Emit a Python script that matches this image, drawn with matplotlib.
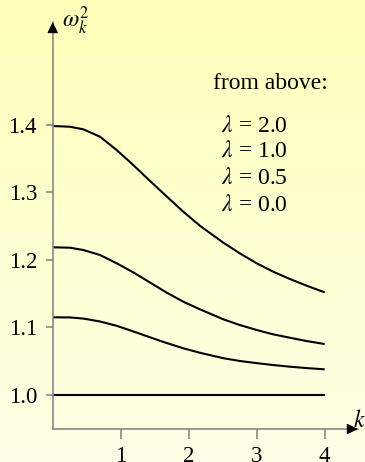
import numpy as np
import matplotlib
matplotlib.use("Agg")
import matplotlib.pyplot as plt

plt.rcParams['font.family'] = ['Liberation Serif', 'DejaVu Serif']
plt.rcParams['mathtext.fontset'] = 'stix'

# values
k_lam2 = [0.0, 0.254, 0.45, 0.696, 0.941, 1.185, 1.43, 1.676, 1.921, 2.166,
          2.509, 2.754, 3.0, 3.244, 3.49, 3.735, 4.0]
w_lam2 = [1.3978, 1.3967, 1.3929, 1.3819, 1.3622, 1.3400, 1.3165, 1.2935, 1.2708, 1.2500,
          1.2250, 1.2090, 1.1944, 1.1819, 1.1711, 1.1612, 1.1514]
k_lam1 = [0.0, 0.254, 0.45, 0.696, 0.941, 1.185, 1.43, 1.676, 1.921, 2.166,
          2.51, 2.75, 3.0, 3.24, 3.49, 3.73, 4.0]
w_lam1 = [1.2181, 1.2175, 1.2141, 1.2067, 1.1944, 1.1810, 1.1660, 1.1510, 1.1375, 1.1262,
          1.1114, 1.1030, 1.0956, 1.0892, 1.0841, 1.0793, 1.0748]
k_lam05 = [0.0, 0.254, 0.45, 0.696, 0.941, 1.185, 1.43, 1.676, 1.921, 2.166,
           2.51, 2.75, 3.0, 3.24, 3.49, 3.73, 4.0]
w_lam05 = [1.1144, 1.1142, 1.1125, 1.1082, 1.1018, 1.0935, 1.0848, 1.0763, 1.0685, 1.0618,
           1.0538, 1.0497, 1.0465, 1.0437, 1.0412, 1.0392, 1.0373]
k_lam0 = [0.0, 4.0]
w_lam0 = [1.0, 1.0]

lambdas = ["2.0", "1.0", "0.5", "0.0"]
xticks = [1, 2, 3, 4]
yticks = [1.0, 1.1, 1.2, 1.3, 1.4]

fig = plt.figure(figsize=(3.65, 4.62), dpi=100)

# yellow gradient background
bg = fig.add_axes([0, 0, 1, 1], zorder=-10)
grad = np.linspace(0, 1, 256).reshape(-1, 1)
top = np.array([1.0, 1.0, 0.73])
bot = np.array([1.0, 1.0, 0.91])
img = top[None, None, :] * (1 - grad[:, :, None]) + bot[None, None, :] * grad[:, :, None]
bg.imshow(img, aspect='auto', extent=[0, 1, 0, 1])
bg.axis('off')

ax = fig.add_axes([0.1444, 0.0714, 0.8364, 0.881])
ax.patch.set_alpha(0)
ax.set_xlim(0, 4.49)
ax.set_ylim(0.9489, 1.5519)

for kk, w in ((k_lam2, w_lam2), (k_lam1, w_lam1), (k_lam05, w_lam05), (k_lam0, w_lam0)):
    ax.plot(kk, w, color='black', lw=1.5, solid_capstyle='butt', solid_joinstyle='round')

axis_col = '#808080'
for s in ('top', 'right'):
    ax.spines[s].set_visible(False)
for s in ('left', 'bottom'):
    ax.spines[s].set_color(axis_col)
    ax.spines[s].set_linewidth(1.1)

ax.set_xticks(xticks)
ax.set_xticklabels([str(t) for t in xticks])
ax.set_yticks(yticks)
ax.set_yticklabels([f"{t:.1f}" for t in yticks])
ax.tick_params(axis='x', direction='out', length=7.5, width=1.1, color=axis_col,
               labelsize=16.5, pad=5)
ax.tick_params(axis='y', direction='out', length=4.8, width=1.1, color=axis_col,
               labelsize=16.5, pad=6.5)

# arrow heads
arr = dict(arrowstyle='-|>,head_length=0.45,head_width=0.22', color='black',
           lw=0.8, shrinkA=0, shrinkB=0, mutation_scale=15)
ax.annotate('', xy=(0, 1.5519), xytext=(0, 1.5389),
            arrowprops=arr, annotation_clip=False)
ax.annotate('', xy=(4.49, 0.9489), xytext=(4.36, 0.9489),
            arrowprops=arr, annotation_clip=False)

ax.text(0.13, 1.543, r'$\omega_k^2$', fontsize=17, va='baseline', ha='left', clip_on=False)
ax.text(4.417, 0.9519, r'$k$', fontsize=17, va='baseline', ha='left', clip_on=False)

ax.text(2.353, 1.4519, 'from above:', fontsize=17, va='baseline', ha='left')
lam_y = [1.3893, 1.3514, 1.3119, 1.2723]
for lab, yy in zip(lambdas, lam_y):
    ax.text(2.475, yy, r'$\lambda$ = ' + lab, fontsize=17, va='baseline', ha='left')

fig.savefig('out.png', dpi=100)
